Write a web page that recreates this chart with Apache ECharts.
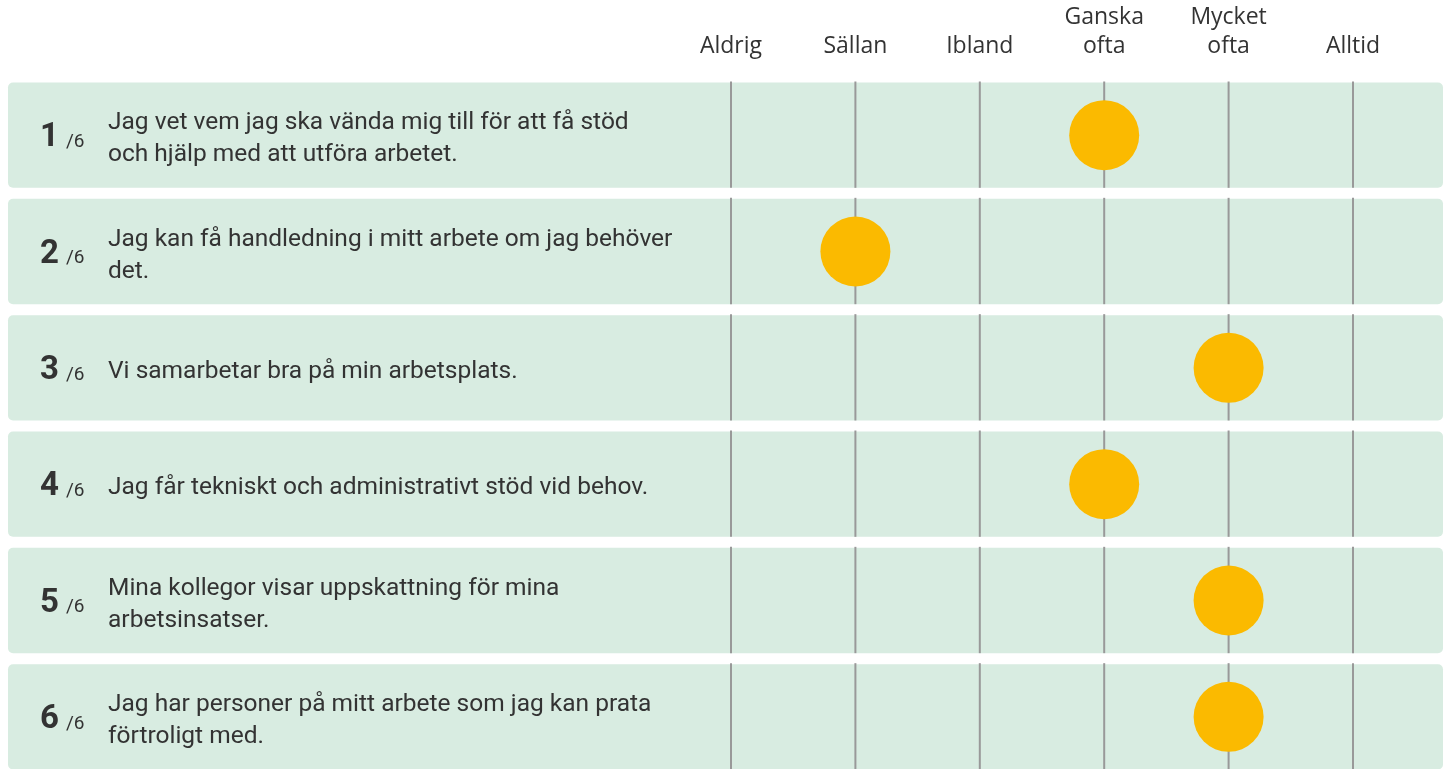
<!DOCTYPE html>
<html lang="sv">
<head>
    <meta charset="UTF-8">
    <title>enkät</title>
    <script src="https://cdn.jsdelivr.net/npm/echarts@6/dist/echarts.min.js"></script>
    <style>
        html, body { margin: 0; padding: 0; background: #fff; }
        #main { width: 1448px; height: 769px; }
    </style>
</head>
<body>
<div id="main"></div>
<script type="text/javascript">
    // svarsalternativ (x-axeln)
    var answers = ['Aldrig', 'Sällan', 'Ibland', 'Ganska\nofta', 'Mycket\nofta', 'Alltid'];
    // påståenden, en per rad
    var statements = [
        'Jag vet vem jag ska vända mig till för att få stöd\noch hjälp med att utföra arbetet.',
        'Jag kan få handledning i mitt arbete om jag behöver\ndet.',
        'Vi samarbetar bra på min arbetsplats.',
        'Jag får tekniskt och administrativt stöd vid behov.',
        'Mina kollegor visar uppskattning för mina\narbetsinsatser.',
        'Jag har personer på mitt arbete som jag kan prata\nförtroligt med.'
    ];
    var rowNums = ['1', '2', '3', '4', '5', '6'];
    // valt svar per rad (index i answers)
    var responses = [3, 1, 4, 3, 4, 4];

    var myChart = echarts.init(document.getElementById('main'));

    var rowData = [];
    var dotData = [];
    for (var i = 0; i < rowNums.length; i++) {
        rowData.push([0, i]);
        dotData.push([responses[i], i]);
    }

    var option = {
        backgroundColor: '#fff',
        animation: false,
        grid: {
            left: 731,
            right: 95,
            top: 77,
            height: 698,
            outerBoundsMode: 'none'
        },
        xAxis: {
            type: 'value',
            position: 'top',
            min: 0,
            max: 5,
            interval: 1,
            axisLine: {show: false},
            axisTick: {show: false},
            splitLine: {show: false},
            axisLabel: {
                margin: 16,
                color: '#333',
                fontSize: 23,
                lineHeight: 29,
                fontFamily: 'Open Sans',
                formatter: function (v) {
                    return answers[v];
                }
            }
        },
        yAxis: {
            type: 'category',
            inverse: true,
            data: rowNums,
            show: false
        },
        series: [
            {
                type: 'custom',
                data: rowData,
                z: 1,
                renderItem: function (params, api) {
                    var i = api.value(1);
                    var c = api.coord([0, i]);
                    var band = api.size([0, 1])[1];
                    var h = band - 11;
                    var top = c[1] - h / 2;
                    var children = [{
                        type: 'rect',
                        shape: {x: 8, y: top, width: 1435, height: h, r: 5},
                        style: {fill: '#d8ece1'}
                    }];
                    for (var k = 0; k < answers.length; k++) {
                        var x = api.coord([k, i])[0];
                        children.push({
                            type: 'line',
                            shape: {x1: x, y1: top - 1, x2: x, y2: top + h},
                            style: {stroke: '#999', lineWidth: 2}
                        });
                    }
                    children.push({
                        type: 'text',
                        style: {
                            text: rowNums[i], x: 59, y: c[1] + 3,
                            font: 'bold 33px Roboto', fill: '#333',
                            align: 'right', verticalAlign: 'middle'
                        }
                    });
                    children.push({
                        type: 'text',
                        style: {
                            text: '/' + rowNums.length, x: 66, y: c[1] + 7,
                            font: '19px Roboto', fill: '#333',
                            align: 'left', verticalAlign: 'middle'
                        }
                    });
                    children.push({
                        type: 'text',
                        style: {
                            text: statements[i], x: 108, y: c[1] + 4,
                            font: '24.5px Roboto', fill: '#333', lineHeight: 32,
                            align: 'left', verticalAlign: 'middle'
                        }
                    });
                    return {type: 'group', children: children};
                }
            },
            {
                type: 'scatter',
                data: dotData,
                z: 5,
                symbolSize: 70,
                itemStyle: {color: '#fbba00', opacity: 1}
            }
        ]
    };

    myChart.setOption(option);
</script>
</body>
</html>
